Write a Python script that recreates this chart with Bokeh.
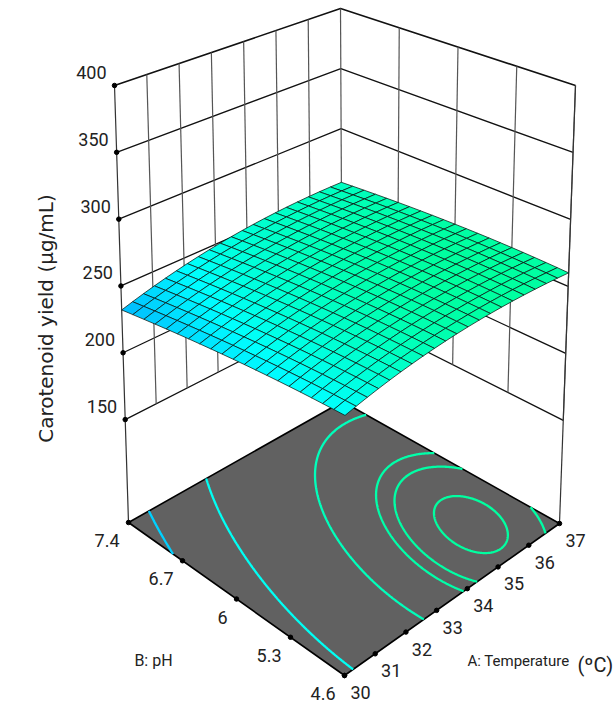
import math
import numpy as np
from contourpy import contour_generator
from bokeh.plotting import figure
from bokeh.models import Range1d
from bokeh.core.properties import value
from bokeh.embed import file_html
from bokeh.resources import INLINE

# ---- chart values -------------------------------------------------------
temperature_ticks = [30, 31, 32, 33, 34, 35, 36, 37]
ph_ticks = [4.6, 5.3, 6, 6.7, 7.4]
ph_tick_labels = ["4.6", "5.3", "6", "6.7", "7.4"]
yield_ticks = [150, 200, 250, 300, 350, 400]
contour_levels = [236.6, 246.8, 257.0, 260.15, 260.8, 261.72]

# yield read at 21 pH steps (rows, 4.6 -> 7.4) x 21 temperature steps (columns, 30 -> 37)
yield_surface = [
    [245.15,247.19,249.09,250.85,252.48,253.98,255.34,256.56,257.65,258.60,259.42,260.10,260.64,261.05,261.33,261.47,261.47,261.34,261.07,260.66,260.12],
    [245.03,247.09,249.01,250.79,252.45,253.97,255.35,256.59,257.70,258.67,259.51,260.21,260.77,261.20,261.50,261.67,261.69,261.58,261.33,260.94,260.42],
    [244.86,246.94,248.88,250.68,252.35,253.90,255.30,256.56,257.69,258.68,259.54,260.27,260.85,261.30,261.62,261.80,261.85,261.76,261.53,261.16,260.66],
    [244.63,246.73,248.69,250.51,252.21,253.77,255.19,256.48,257.63,258.64,259.52,260.27,260.87,261.34,261.68,261.89,261.95,261.88,261.68,261.33,260.85],
    [244.34,246.46,248.44,250.29,252.00,253.59,255.03,256.33,257.51,258.54,259.44,260.21,260.83,261.32,261.69,261.91,262.00,261.95,261.76,261.44,260.98],
    [243.99,246.14,248.14,250.01,251.74,253.35,254.81,256.14,257.33,258.38,259.31,260.09,260.74,261.25,261.64,261.88,261.99,261.96,261.80,261.49,261.05],
    [243.59,245.76,247.78,249.67,251.43,253.05,254.54,255.88,257.10,258.17,259.12,259.92,260.59,261.12,261.53,261.80,261.92,261.92,261.77,261.49,261.07],
    [243.13,245.32,247.37,249.27,251.05,252.70,254.21,255.57,256.81,257.90,258.87,259.69,260.38,260.94,261.36,261.65,261.80,261.82,261.69,261.43,261.03],
    [242.62,244.83,246.90,248.82,250.62,252.29,253.82,255.21,256.46,257.57,258.56,259.41,260.12,260.70,261.14,261.45,261.62,261.66,261.56,261.31,260.93],
    [242.05,244.28,246.37,248.32,250.13,251.82,253.37,254.78,256.06,257.19,258.20,259.07,259.80,260.40,260.87,261.19,261.38,261.44,261.36,261.14,260.78],
    [241.42,243.67,245.78,247.75,249.59,251.30,252.87,254.30,255.60,256.75,257.78,258.67,259.42,260.04,260.53,260.88,261.09,261.17,261.11,260.91,260.57],
    [240.74,243.01,245.14,247.13,248.99,250.72,252.31,253.76,255.09,256.26,257.31,258.22,258.99,259.63,260.14,260.51,260.74,260.84,260.80,260.63,260.31],
    [240.00,242.29,244.44,246.45,248.34,250.09,251.70,253.17,254.51,255.70,256.78,257.71,258.50,259.16,259.69,260.09,260.34,260.46,260.44,260.28,259.98],
    [239.20,241.51,243.69,245.72,247.62,249.40,251.03,252.52,253.89,255.10,256.19,257.14,257.95,258.64,259.19,259.60,259.88,260.02,260.02,259.89,259.61],
    [238.35,240.68,242.88,244.93,246.85,248.65,250.30,251.82,253.20,254.43,255.54,256.52,257.35,258.06,258.63,259.06,259.36,259.52,259.55,259.43,259.17],
    [237.44,239.79,242.01,244.08,246.03,247.84,249.52,251.05,252.46,253.71,254.84,255.84,256.69,257.42,258.01,258.47,258.78,258.97,259.01,258.92,258.68],
    [236.47,238.85,241.08,243.18,245.15,246.98,248.68,250.23,251.66,252.93,254.09,255.10,255.98,256.72,257.34,257.82,258.15,258.36,258.42,258.35,258.13],
    [235.45,237.85,240.10,242.22,244.21,246.06,247.78,249.36,250.81,252.10,253.27,254.31,255.21,255.97,256.61,257.11,257.46,257.69,257.78,257.73,257.53],
    [234.37,236.79,239.07,241.20,243.21,245.09,246.83,248.43,249.89,251.20,252.40,253.46,254.38,255.17,255.82,256.34,256.72,256.97,257.08,257.04,256.86],
    [233.23,235.67,237.97,240.13,242.16,244.06,245.82,247.44,248.93,250.26,251.48,252.55,253.49,254.30,254.98,255.52,255.92,256.19,256.32,256.31,256.15],
    [232.04,234.50,236.82,239.00,241.05,242.97,244.75,246.39,247.90,249.25,250.49,251.59,252.55,253.38,254.08,254.64,255.06,255.35,255.50,255.51,255.37],
]

# ---- box extents and view (where the box corners land on the page) ------
T_MIN, T_MAX = 30.0, 37.0
PH_MIN, PH_MAX = 4.6, 7.4
Z_MIN, Z_MAX = 73.0, 400.0
VIEW_FLOOR = {"left": (128, 522), "front": (344, 675), "right": (559, 523), "back": (342, 401)}
VIEW_TOP = {"left": (114, 85), "front": (345, 181), "right": (575, 85), "back": (340, 8)}


def _corners(view, a, b):
    x = ((1 - a) * (1 - b) * view["front"][0] + a * (1 - b) * view["right"][0]
         + (1 - a) * b * view["left"][0] + a * b * view["back"][0])
    y = ((1 - a) * (1 - b) * view["front"][1] + a * (1 - b) * view["right"][1]
         + (1 - a) * b * view["left"][1] + a * b * view["back"][1])
    return x, y


def project(temp, ph, z):
    a = (np.asarray(temp, float) - T_MIN) / (T_MAX - T_MIN)
    b = (np.asarray(ph, float) - PH_MIN) / (PH_MAX - PH_MIN)
    t = (np.asarray(z, float) - Z_MIN) / (Z_MAX - Z_MIN)
    fx, fy = _corners(VIEW_FLOOR, a, b)
    tx, ty = _corners(VIEW_TOP, a, b)
    return fx + t * (tx - fx), fy + t * (ty - fy)


def colour(z):
    # blue -> cyan -> green response colour scale
    if z < 245:
        g = max(0.0, 255 * (z - 199) / 46)
        return "#%02x%02x%02x" % (0, int(g), 255)
    bl = max(0.0, 255 * (1 - (z - 245) / 45))
    return "#%02x%02x%02x" % (0, 255, int(bl))


p = figure(width=613, height=707, output_backend="svg", toolbar_location=None,
           x_range=Range1d(0, 613), y_range=Range1d(707, 0),
           min_border=0, outline_line_color=None, background_fill_color="white",
           border_fill_color="white")
p.axis.visible = False
p.grid.visible = False

# ---- walls --------------------------------------------------------------
for z in yield_ticks:
    lw = 1.6 if z == Z_MAX else 1.3
    x1, y1 = project(T_MIN, PH_MAX, z)
    x2, y2 = project(T_MAX, PH_MAX, z)
    x3, y3 = project(T_MAX, PH_MIN, z)
    p.line([x1, x2, x3], [y1, y2, y3], line_color="#111111", line_width=lw)

for t in temperature_ticks[1:]:
    xs, ys = project([t, t], [PH_MAX, PH_MAX], [150, 400])
    p.line(list(xs), list(ys), line_color="#555555", line_width=1.2)
for ph in np.array(ph_ticks)[:-1]:
    xs, ys = project([T_MAX, T_MAX], [ph, ph], [150, 400])
    p.line(list(xs), list(ys), line_color="#555555", line_width=1.2)
for corner_t, corner_ph in ((T_MIN, PH_MAX), (T_MAX, PH_MIN)):
    xs, ys = project([corner_t, corner_t], [corner_ph, corner_ph], [Z_MIN, Z_MAX])
    p.line(list(xs), list(ys), line_color="#333333", line_width=1.2)

# ---- floor and contours -------------------------------------------------
fx, fy = project([T_MIN, T_MAX, T_MAX, T_MIN], [PH_MAX, PH_MAX, PH_MIN, PH_MIN], [Z_MIN] * 4)
p.patch(list(fx), list(fy), fill_color="#616161", line_color="black", line_width=1.6)

grid = np.array(yield_surface)
ph_grid = np.linspace(PH_MIN, PH_MAX, grid.shape[0])
t_grid = np.linspace(T_MIN, T_MAX, grid.shape[1])
TT, PP = np.meshgrid(t_grid, ph_grid)

# second-order response model fitted to the table, used to draw smooth contours
def basis(t, ph):
    return np.column_stack([np.ones_like(t), t, ph, t * t, ph * ph, t * ph])

coef, *_ = np.linalg.lstsq(basis(TT.ravel(), PP.ravel()), grid.ravel(), rcond=None)
t_fine = np.linspace(T_MIN, T_MAX, 281)
ph_fine = np.linspace(PH_MIN, PH_MAX, 281)
TF, PF = np.meshgrid(t_fine, ph_fine)
ZF = (basis(TF.ravel(), PF.ravel()) @ coef).reshape(TF.shape)
gen = contour_generator(x=t_fine, y=ph_fine, z=ZF)
for lev in contour_levels:
    for seg in gen.lines(lev):
        xs, ys = project(seg[:, 0], seg[:, 1], np.full(len(seg), Z_MIN))
        p.line(list(xs), list(ys), line_color=colour(lev), line_width=2.3)

# ---- surface (back to front) --------------------------------------------
cell_x, cell_y, cell_c, depth = [], [], [], []
for j in range(grid.shape[0] - 1):
    for i in range(grid.shape[1] - 1):
        ts = [t_grid[i], t_grid[i + 1], t_grid[i + 1], t_grid[i]]
        ps = [ph_grid[j], ph_grid[j], ph_grid[j + 1], ph_grid[j + 1]]
        zs = [grid[j, i], grid[j, i + 1], grid[j + 1, i + 1], grid[j + 1, i]]
        xs, ys = project(ts, ps, zs)
        cell_x.append(list(xs))
        cell_y.append(list(ys))
        cell_c.append(colour(sum(zs) / 4))
        depth.append(i + j)
order = sorted(range(len(depth)), key=lambda k: -depth[k])
p.patches([cell_x[k] for k in order], [cell_y[k] for k in order],
          fill_color=[cell_c[k] for k in order], line_color="#0a1512", line_width=0.75)

# ---- tick dots ----------------------------------------------------------
ax, ay = project(temperature_ticks, [PH_MIN] * len(temperature_ticks), [Z_MIN] * len(temperature_ticks))
bx, by = project([T_MIN] * len(ph_ticks), ph_ticks, [Z_MIN] * len(ph_ticks))
zx, zy = project([T_MIN] * len(yield_ticks), [PH_MAX] * len(yield_ticks), yield_ticks)
for xs, ys in ((ax, ay), (bx, by), (zx, zy)):
    p.scatter(list(xs), list(ys), marker="circle", size=4.5, fill_color="black", line_color="black")

# ---- texts --------------------------------------------------------------
LABEL_FONT = value("Roboto")
COL = "#222222"
p.text(list(ax), list(ay), text=[str(v) for v in temperature_ticks], x_offset=16, y_offset=17,
       text_align="center", text_baseline="middle", text_font=LABEL_FONT, text_font_size="18px", text_color=COL)
p.text(list(bx), list(by), text=ph_tick_labels, x_offset=-9, y_offset=18,
       text_align="right", text_baseline="middle", text_font=LABEL_FONT, text_font_size="18px", text_color=COL)
p.text(list(zx), list(zy), text=[str(v) for v in yield_ticks], x_offset=-8, y_offset=-13,
       text_align="right", text_baseline="middle", text_font=LABEL_FONT, text_font_size="18px", text_color=COL)
p.text([153], [660], text=["B: pH"], text_align="center", text_baseline="middle",
       text_font=LABEL_FONT, text_font_size="16px", text_color=COL)
p.text([467], [660], text=["A: Temperature"], text_align="left", text_baseline="middle",
       text_font=LABEL_FONT, text_font_size="15px", text_color=COL)
p.text([577], [664], text=["(ºC)"], text_align="left", text_baseline="middle",
       text_font=LABEL_FONT, text_font_size="20px", text_color=COL)
p.text([45], [318], text=["Carotenoid yield (μg/mL)"], angle=math.pi / 2, text_align="center",
       text_baseline="middle", text_font=value("DejaVu Sans"), text_font_size="20px", text_color=COL)

open("out.html", "w").write(file_html(p, INLINE))
